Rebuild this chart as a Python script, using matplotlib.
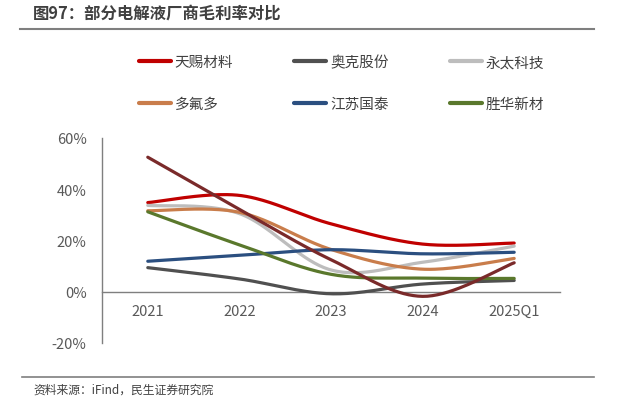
import numpy as np
import matplotlib
matplotlib.use('Agg')
import matplotlib.pyplot as plt
from matplotlib.lines import Line2D

plt.rcParams['font.family'] = ['Noto Sans CJK SC', 'DejaVu Sans']

# data (gross margin, %)
periods = ['2021', '2022', '2023', '2024', '2025Q1']
tinci = [34.8, 37.6, 26.5, 18.6, 19.0]      # 天赐材料
oxiranchem = [9.4, 5.0, -0.8, 3.0, 4.4]     # 奥克股份
yongtai = [33.7, 30.5, 8.5, 11.5, 17.8]     # 永太科技
dfd = [31.6, 31.0, 16.5, 8.8, 13.0]         # 多氟多
gtht = [11.9, 14.2, 16.4, 14.8, 15.4]       # 江苏国泰
shenghua = [31.2, 18.3, 6.8, 5.3, 5.2]      # 胜华新材
unlabeled = [52.5, 32.2, 12.5, -1.8, 11.3]  # 图例中未列出的一条

series = [
    ('天赐材料', tinci, '#C00000'),
    ('奥克股份', oxiranchem, '#505050'),
    ('永太科技', yongtai, '#BDBDBD'),
    ('多氟多', dfd, '#C97D4B'),
    ('江苏国泰', gtht, '#2B4F80'),
    ('胜华新材', shenghua, '#5A782C'),
    (None, unlabeled, '#7A2A2A'),
]


def smooth(y, n=40):
    # excel-like smoothed line: catmull-rom bezier through the points
    p = np.column_stack([np.arange(len(y)), y]).astype(float)
    pts = np.vstack([p[0], p, p[-1]])
    out = []
    t = np.linspace(0, 1, n)[:, None]
    for i in range(1, len(pts) - 2):
        p0, p3 = pts[i], pts[i + 1]
        c1 = p0 + (pts[i + 1] - pts[i - 1]) / 6
        c2 = p3 - (pts[i + 2] - pts[i]) / 6
        seg = ((1 - t) ** 3 * p0 + 3 * (1 - t) ** 2 * t * c1
               + 3 * (1 - t) * t ** 2 * c2 + t ** 3 * p3)
        out.append(seg if i == 1 else seg[1:])
    out = np.vstack(out)
    return out[:, 0], out[:, 1]


fig = plt.figure(figsize=(6.28, 4.10), dpi=100)
ax = fig.add_axes([0.1624, 0.161, 0.7293, 0.500])

order = [6, 5, 4, 3, 2, 1, 0]
handles = {}
for k in order:
    name, vals, col = series[k]
    xs, ys = smooth(vals)
    ax.plot(xs, ys, color=col, lw=2.3, solid_capstyle='round', zorder=3 + k)
    if name:
        handles[name] = Line2D([], [], color=col, lw=3, solid_capstyle='round')

ax.set_xlim(-0.5, len(periods) - 0.5)
ax.set_ylim(-20, 60)
ax.set_yticks([-20, 0, 20, 40, 60])
ax.set_yticklabels([f'{v}%' for v in [-20, 0, 20, 40, 60]])
ax.set_xticks(range(len(periods)))
ax.set_xticklabels(periods)

for s in ['top', 'right']:
    ax.spines[s].set_visible(False)
ax.spines['bottom'].set_position(('data', 0))
ax.spines['bottom'].set_color('#7F7F7F')
ax.spines['left'].set_color('#7F7F7F')
ax.spines['bottom'].set_linewidth(1.0)
ax.spines['left'].set_linewidth(1.0)
ax.tick_params(axis='both', length=0, labelsize=10.5, colors='#595959')
ax.tick_params(axis='x', pad=9)
ax.tick_params(axis='y', pad=11)

leg_names = ['天赐材料', '多氟多', '奥克股份', '江苏国泰', '永太科技', '胜华新材']
fig.legend([handles[n] for n in leg_names], leg_names, ncol=3,
           loc='center left', bbox_to_anchor=(0.221, 0.795),
           frameon=False, fontsize=10.5, handlelength=2.2, handletextpad=0.25,
           columnspacing=4.2, labelspacing=1.9, labelcolor='#404040',
           borderaxespad=0, borderpad=0)

fig.text(33 / 628, 1 - 14 / 410, '图97：部分电解液厂商毛利率对比', fontsize=11.8,
         fontweight='bold', color='#404040', ha='left', va='center')
fig.add_artist(Line2D([20 / 628, 594 / 628], [1 - 30 / 410, 1 - 30 / 410],
                      color='#7F7F7F', lw=1.5))
fig.add_artist(Line2D([22 / 628, 594 / 628], [1 - 378 / 410, 1 - 378 / 410],
                      color='#7F7F7F', lw=1.2))
fig.text(33 / 628, 1 - 390 / 410, '资料来源：iFind，民生证券研究院', fontsize=8.5,
         color='#404040', ha='left', va='center')

fig.savefig('out.png', dpi=100)
